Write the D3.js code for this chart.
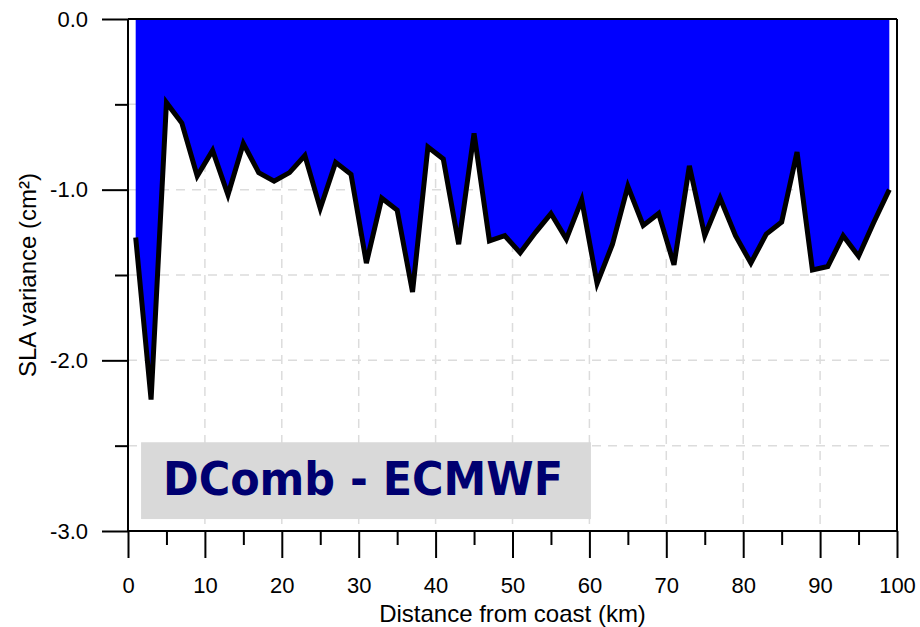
<!DOCTYPE html>
<html>
<head>
<meta charset="utf-8">
<script src="https://cdn.jsdelivr.net/npm/d3@7"></script>
<style>
  html, body { margin: 0; padding: 0; background: #ffffff; }
  svg { display: block; }
</style>
</head>
<body>
<svg id="chart" width="920" height="627"></svg>
<script>
const distance = [1,3,5,7,9,11,13,15,17,19,21,23,25,27,29,31,33,35,37,39,41,43,45,47,49,
                  51,53,55,57,59,61,63,65,67,69,71,73,75,77,79,81,83,85,87,89,91,93,95,97,99];
const variance = [-1.28,-2.23,-0.49,-0.61,-0.92,-0.77,-1.03,-0.73,-0.90,-0.95,
                  -0.90,-0.80,-1.11,-0.84,-0.91,-1.43,-1.05,-1.12,-1.60,-0.75,
                  -0.82,-1.32,-0.67,-1.30,-1.27,-1.37,-1.25,-1.14,-1.29,-1.06,
                  -1.55,-1.32,-0.98,-1.21,-1.14,-1.44,-0.86,-1.27,-1.05,-1.27,
                  -1.43,-1.26,-1.19,-0.78,-1.47,-1.45,-1.27,-1.39,-1.19,-1.00];
const xMajorTicks = [0,10,20,30,40,50,60,70,80,90,100];
const xMinorTicks = [5,15,25,35,45,55,65,75,85,95];
const yMajorTicks = [0,-1,-2,-3];
const yMinorTicks = [-0.5,-1.5,-2.5];
const xGrid = [10,20,30,40,50,60,70,80,90];
const yGrid = [-0.5,-1,-1.5,-2,-2.5];
const xTitle = "Distance from coast (km)";
const yTitle = "SLA variance (cm²)";
const boxLabel = "DComb - ECMWF";

(function () {
const data = distance.map((d, i) => ({ x: d, y: variance[i] }));

const svg = d3.select("#chart");
const pL = 128, pR = 897, pT = 19, pB = 531;
const x = d3.scaleLinear().domain([0, 100]).range([pL, pR]);
const y = d3.scaleLinear().domain([-3, 0]).range([pB, pT]);
const FONT = "'Liberation Sans', Arial, Helvetica, sans-serif";

// grid
const grid = svg.append("g");
grid.selectAll("line.vx").data(xGrid).enter().append("line")
  .attr("x1", d => x(d)).attr("x2", d => x(d))
  .attr("y1", pT).attr("y2", pB)
  .attr("stroke", "#dcdcdc").attr("stroke-width", 1.5).attr("stroke-dasharray", "9,7");
grid.selectAll("line.hy").data(yGrid).enter().append("line")
  .attr("x1", pL).attr("x2", pR)
  .attr("y1", d => y(d)).attr("y2", d => y(d))
  .attr("stroke", "#dcdcdc").attr("stroke-width", 1.5).attr("stroke-dasharray", "9,7");

// area fill
const area = d3.area().x(d => x(d.x)).y0(y(0)).y1(d => y(d.y));
svg.append("path").datum(data).attr("d", area).attr("fill", "#0000ff");

// line
const line = d3.line().x(d => x(d.x)).y(d => y(d.y));
svg.append("path").datum(data).attr("d", line)
  .attr("fill", "none").attr("stroke", "#000").attr("stroke-width", 5)
  .attr("stroke-linejoin", "miter").attr("stroke-miterlimit", 4);

// label box
const bx0 = x(1.7), bx1 = x(60.2), by0 = y(-2.48), by1 = y(-2.93);
svg.append("rect").attr("x", bx0).attr("y", by0)
  .attr("width", bx1 - bx0).attr("height", by1 - by0).attr("fill", "#d9d9d9");
svg.append("text").attr("x", 163).attr("y", 495)
  .attr("font-family", "'Comic Sans MS', 'DejaVu Sans', sans-serif")
  .attr("font-weight", "bold").attr("font-size", 46)
  .attr("fill", "#000070")
  .attr("textLength", 400).attr("lengthAdjust", "spacingAndGlyphs")
  .text(boxLabel);

// frame top/right
svg.append("line").attr("x1", pL).attr("x2", pR).attr("y1", pT).attr("y2", pT)
  .attr("stroke", "#000").attr("stroke-width", 2);
svg.append("line").attr("x1", pR).attr("x2", pR).attr("y1", pT).attr("y2", pB)
  .attr("stroke", "#000").attr("stroke-width", 2);

// axes
const gx = svg.append("g").attr("transform", `translate(0,${pB})`);
gx.call(d3.axisBottom(x).tickValues(xMinorTicks).tickSize(14).tickFormat(""));
const gx2 = svg.append("g").attr("transform", `translate(0,${pB})`);
gx2.call(d3.axisBottom(x).tickValues(xMajorTicks).tickSize(27).tickPadding(19).tickFormat(d3.format("d")));

const gy = svg.append("g").attr("transform", `translate(${pL},0)`);
gy.call(d3.axisLeft(y).tickValues(yMinorTicks).tickSize(13).tickFormat(""));
const gy2 = svg.append("g").attr("transform", `translate(${pL},0)`);
gy2.call(d3.axisLeft(y).tickValues(yMajorTicks).tickSize(26).tickPadding(14).tickFormat(d => d.toFixed(1)));

svg.selectAll(".domain").attr("stroke", "#000").attr("stroke-width", 2);
svg.selectAll(".tick line").attr("stroke", "#000").attr("stroke-width", 2);
svg.selectAll(".tick text").attr("font-family", FONT).attr("font-size", 22).attr("fill", "#000");
gx.select(".domain").attr("d", `M${pL},0H${pR}`);
gx2.select(".domain").attr("d", `M${pL},0H${pR}`);
gy.select(".domain").attr("d", `M0,${pT}V${pB}`);
gy2.select(".domain").attr("d", `M0,${pT}V${pB}`);

// titles
svg.append("text").attr("x", (pL + pR) / 2).attr("y", 622)
  .attr("text-anchor", "middle").attr("font-family", FONT).attr("font-size", 24)
  .text(xTitle);
svg.append("text").attr("transform", `translate(36,${(pT + pB) / 2}) rotate(-90)`)
  .attr("text-anchor", "middle").attr("font-family", FONT).attr("font-size", 24)
  .text(yTitle);
})();
</script>
</body>
</html>
